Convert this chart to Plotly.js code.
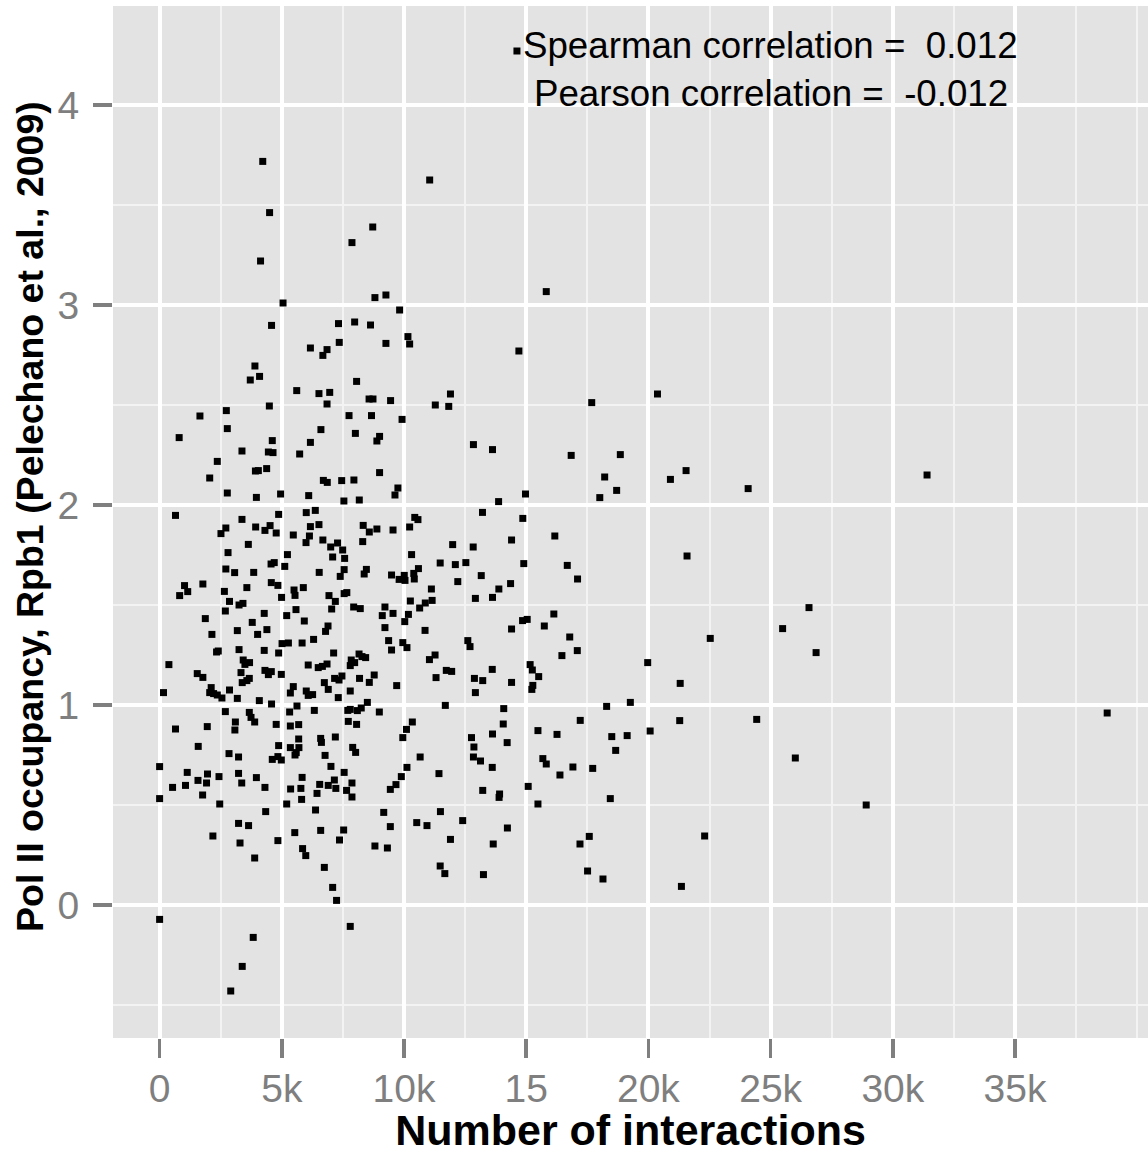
<!DOCTYPE html>
<html><head><meta charset="utf-8">
<script src="https://cdn.plot.ly/plotly-3.0.1.min.js"></script>
<style>html,body{margin:0;padding:0;background:#fff;overflow:hidden}#chart{width:1148px;height:1154px}</style>
</head><body><div id="chart"></div>
<script>
// [number of interactions (thousands), Pol II occupancy]
const topLeftPts = [[4.22,3.718],[4.50,3.462],[4.13,3.22],[5.05,3.01],[4.58,2.898],[6.17,2.785],[6.85,2.777],[6.68,2.748],[3.90,2.695],[4.09,2.643],[3.71,2.625],[5.61,2.572],[6.52,2.557],[6.96,2.563]];
const topMidPts = [[11.05,3.625],[8.72,3.39],[7.87,3.312],[8.81,3.037],[9.26,3.05],[15.82,3.067],[9.82,2.975],[7.32,2.907],[7.98,2.915],[8.63,2.9],[7.35,2.813],[9.26,2.808],[10.16,2.842],[10.23,2.805],[14.70,2.77],[8.06,2.618],[11.90,2.555],[14.62,4.27]];
const upperLeftPts = [[4.49,2.495],[6.85,2.505],[1.65,2.445],[2.73,2.472],[2.77,2.382],[6.60,2.377],[0.80,2.337],[4.61,2.322],[6.17,2.313],[3.37,2.27],[4.45,2.265],[4.64,2.262],[5.73,2.255],[2.36,2.218],[3.92,2.17],[4.04,2.172],[4.38,2.182],[2.05,2.135],[6.70,2.123],[6.86,2.113],[2.77,2.06],[3.96,2.038],[4.95,2.055],[6.10,2.047],[0.65,1.948],[3.37,1.928],[4.87,1.953],[6.00,1.962],[6.37,1.973],[2.71,1.885],[2.51,1.857],[3.93,1.89],[4.31,1.873],[4.52,1.897],[4.77,1.86],[5.47,1.85],[6.17,1.892],[6.52,1.902],[6.13,1.845],[5.99,1.812],[6.68,1.825],[7.00,1.79],[3.63,1.803],[2.80,1.762],[5.23,1.752],[7.08,1.74],[4.56,1.705],[4.69,1.712],[5.12,1.693],[2.71,1.68],[3.07,1.662],[3.85,1.663],[6.53,1.663],[1.02,1.597],[1.15,1.567],[0.82,1.547],[1.77,1.605],[2.65,1.568],[3.57,1.587],[4.57,1.612],[4.84,1.598],[5.50,1.575],[5.54,1.548],[5.88,1.587],[4.99,1.538],[6.93,1.547],[2.86,1.518],[3.25,1.5],[3.41,1.508],[2.69,1.47],[4.28,1.458],[5.58,1.477],[5.20,1.447],[7.04,1.48],[1.87,1.432],[3.79,1.413],[5.92,1.42],[2.14,1.353],[3.18,1.372],[4.01,1.353],[4.39,1.377],[6.89,1.395],[6.79,1.368]];
const upperMidPts = [[8.57,2.53],[8.73,2.53],[9.45,2.522],[11.28,2.5],[11.83,2.493],[7.75,2.447],[8.67,2.447],[9.92,2.428],[8.01,2.358],[9.00,2.343],[8.89,2.32],[12.84,2.302],[13.62,2.277],[9.00,2.162],[7.45,2.122],[7.95,2.125],[9.75,2.085],[9.63,2.05],[7.54,2.02],[8.17,2.025],[13.87,2.017],[14.97,2.055],[13.21,1.963],[14.86,1.933],[10.44,1.938],[10.57,1.927],[10.23,1.89],[8.33,1.898],[8.58,1.865],[8.89,1.88],[9.55,1.875],[14.40,1.825],[7.28,1.81],[7.49,1.775],[7.57,1.733],[8.31,1.817],[11.99,1.802],[12.83,1.79],[10.31,1.752],[11.48,1.71],[12.10,1.702],[12.53,1.712],[14.90,1.707],[7.55,1.677],[8.46,1.678],[8.37,1.655],[10.59,1.682],[10.40,1.658],[9.49,1.65],[9.80,1.628],[10.01,1.648],[10.04,1.623],[10.42,1.63],[7.39,1.643],[13.16,1.647],[12.20,1.617],[14.36,1.607],[13.88,1.58],[11.12,1.58],[7.55,1.557],[7.66,1.562],[7.19,1.518],[7.94,1.49],[8.21,1.482],[9.22,1.49],[10.26,1.52],[10.87,1.51],[10.64,1.485],[11.15,1.523],[12.92,1.533],[13.62,1.538],[9.11,1.447],[9.55,1.458],[10.18,1.453],[10.03,1.417],[9.22,1.387],[10.86,1.373],[14.85,1.422],[15.04,1.428],[14.40,1.38],[15.74,1.395],[16.13,1.455]];
const lowerLeftPts = [[5.01,1.307],[5.27,1.31],[5.83,1.31],[6.30,1.328],[7.12,1.26],[2.33,1.265],[2.40,1.27],[3.25,1.277],[4.28,1.273],[4.87,1.26],[0.38,1.202],[3.42,1.225],[3.49,1.203],[3.68,1.212],[6.08,1.2],[6.49,1.187],[6.66,1.193],[6.85,1.205],[1.54,1.157],[1.77,1.138],[3.33,1.162],[4.31,1.173],[4.57,1.167],[4.45,1.152],[4.98,1.153],[6.74,1.112],[3.38,1.112],[3.57,1.122],[3.67,1.133],[0.16,1.062],[2.11,1.087],[2.05,1.062],[2.21,1.057],[2.36,1.05],[2.55,1.035],[2.86,1.075],[3.18,1.033],[5.47,1.092],[5.35,1.06],[6.00,1.07],[6.08,1.048],[6.26,1.052],[6.90,1.078],[4.08,1.022],[4.58,1.005],[5.62,0.995],[2.69,0.967],[3.67,0.963],[3.74,0.938],[3.89,0.915],[5.32,0.965],[6.33,0.973],[0.65,0.88],[1.95,0.892],[3.10,0.915],[3.08,0.875],[4.77,0.903],[5.35,0.895],[5.69,0.902],[5.69,0.83],[6.59,0.833],[6.62,0.813],[1.58,0.793],[2.84,0.757],[3.23,0.74],[4.87,0.797],[5.35,0.787],[5.70,0.787],[5.59,0.762],[5.54,0.75],[6.77,0.748],[4.61,0.728],[4.84,0.742],[4.98,0.725],[7.01,0.693],[0.00,0.692],[1.13,0.663],[1.96,0.655],[2.43,0.642],[3.23,0.658],[3.96,0.637],[5.83,0.638],[0.53,0.588],[1.06,0.598],[1.57,0.623],[1.92,0.61],[3.36,0.61],[4.31,0.588],[5.36,0.58],[5.78,0.583],[6.55,0.603],[6.90,0.598],[7.15,0.625],[1.76,0.55],[6.44,0.558],[5.81,0.528],[0.00,0.532],[2.46,0.505],[5.20,0.505],[4.34,0.467],[6.38,0.475],[3.23,0.408],[3.64,0.397],[5.53,0.362],[6.59,0.373],[2.18,0.345],[3.29,0.31],[4.84,0.322],[5.85,0.282],[5.98,0.247],[3.89,0.235],[6.74,0.188],[7.08,0.088],[0.00,-0.072],[3.83,-0.162],[3.38,-0.307],[2.91,-0.43]];
const lowerMidPts = [[9.37,1.322],[9.49,1.275],[9.95,1.312],[10.12,1.287],[12.61,1.322],[12.70,1.292],[11.04,1.227],[11.27,1.25],[7.84,1.225],[7.98,1.212],[7.80,1.197],[8.16,1.255],[8.28,1.242],[8.43,1.237],[13.61,1.178],[11.73,1.173],[11.95,1.168],[15.16,1.202],[15.25,1.175],[15.51,1.142],[15.23,1.078],[15.27,1.098],[14.40,1.113],[12.88,1.133],[13.22,1.122],[12.92,1.062],[11.31,1.137],[9.70,1.097],[8.18,1.133],[8.78,1.15],[8.58,1.113],[7.16,1.133],[7.34,1.125],[7.46,1.145],[7.80,1.07],[7.31,1.037],[8.50,1.013],[8.25,0.985],[8.09,0.972],[7.70,0.973],[7.80,0.978],[8.99,0.965],[11.69,0.998],[14.08,0.982],[7.72,0.918],[8.06,0.903],[10.34,0.915],[10.10,0.878],[9.95,0.837],[14.06,0.905],[13.62,0.855],[14.22,0.812],[12.76,0.837],[12.86,0.79],[12.84,0.74],[13.13,0.72],[15.48,0.872],[7.19,0.84],[7.90,0.788],[8.02,0.763],[10.66,0.74],[13.61,0.688],[15.68,0.732],[15.82,0.705],[10.12,0.688],[11.43,0.657],[7.55,0.663],[9.89,0.642],[7.21,0.583],[7.87,0.61],[7.65,0.573],[7.87,0.54],[9.67,0.602],[9.44,0.578],[13.22,0.573],[13.91,0.555],[13.89,0.538],[15.08,0.593],[15.48,0.505],[9.17,0.463],[9.44,0.392],[11.49,0.467],[10.52,0.412],[10.94,0.397],[12.40,0.422],[14.23,0.385],[7.53,0.375],[7.36,0.325],[8.81,0.295],[9.32,0.285],[11.90,0.328],[13.65,0.305],[11.48,0.195],[11.67,0.157],[13.25,0.152],[7.24,0.023],[7.80,-0.107]];
const rightUpperPts = [[17.68,2.512],[20.37,2.555],[16.84,2.248],[18.85,2.252],[18.21,2.14],[18.70,2.073],[18.01,2.037],[20.90,2.128],[21.54,2.172],[24.08,2.082],[16.17,1.845],[31.40,2.15]];
const rightLowerPts = [[16.68,1.698],[17.10,1.63],[16.78,1.34],[16.46,1.247],[17.09,1.272],[21.58,1.745],[26.57,1.487],[25.49,1.382],[26.86,1.262],[22.53,1.333],[19.97,1.212],[21.30,1.108],[18.29,0.993],[19.26,1.013],[17.21,0.923],[16.26,0.853],[18.50,0.842],[19.13,0.847],[18.66,0.773],[20.07,0.87],[21.28,0.922],[24.43,0.928],[26.01,0.735],[16.91,0.69],[17.72,0.683],[16.38,0.65],[18.44,0.532],[28.91,0.5],[17.58,0.343],[17.20,0.305],[22.30,0.345],[17.51,0.17],[18.14,0.13],[21.35,0.093],[38.77,0.96]];

const xTickVals = [0, 5, 10, 15, 20, 25, 30, 35];
const xTickText = ['0', '5k', '10k', '15', '20k', '25k', '30k', '35k'];
const xTitleText = 'Number of interactions';
const yTitleText = 'Pol II occupancy, Rpb1 (Pelechano et al., 2009)';
const spearmanText = 'Spearman correlation =\u00a0 0.012';
const pearsonText = 'Pearson correlation =\u00a0 -0.012';

const allPts = [].concat(topLeftPts, topMidPts, upperLeftPts, upperMidPts, lowerLeftPts, lowerMidPts, rightUpperPts, rightLowerPts);
const xs = allPts.map(p => p[0]);
const ys = allPts.map(p => p[1]);

const FONT = '"Liberation Sans", Arial, Helvetica, sans-serif';
const GRAY = '#7F7F7F';

const trace = {
  type: 'scatter', mode: 'markers', x: xs, y: ys,
  marker: {symbol: 'square', size: 7, color: '#000000', line: {width: 0}},
  hoverinfo: 'skip', cliponaxis: true
};

const layout = {
  width: 1148, height: 1154,
  margin: {l: 113, r: 0, t: 6, b: 116, pad: 0},
  paper_bgcolor: '#FFFFFF', plot_bgcolor: '#E3E3E3',
  font: {family: FONT, color: GRAY},
  showlegend: false,
  xaxis: {
    range: [-1.907, 40.44], tickmode: 'array', tickvals: xTickVals, ticktext: xTickText,
    ticks: 'outside', ticklen: 19, tickwidth: 3.5, tickcolor: GRAY,
    tickfont: {family: FONT, size: 39, color: GRAY},
    ticklabelstandoff: -3,
    showgrid: true, gridcolor: '#FFFFFF', gridwidth: 4,
    minor: {dtick: 2.5, tick0: 0, showgrid: true, gridcolor: '#F3F3F3', gridwidth: 2, ticks: ''},
    zeroline: false, showline: false,
    title: {text: xTitleText, font: {family: FONT, size: 43, color: '#000000', weight: 'bold'}, standoff: 12}
  },
  yaxis: {
    range: [-0.665, 4.495], tickmode: 'linear', tick0: 0, dtick: 1,
    ticks: 'outside', ticklen: 19, tickwidth: 3.5, tickcolor: GRAY,
    tickfont: {family: FONT, size: 39, color: GRAY},
    ticklabelstandoff: 6,
    showgrid: true, gridcolor: '#FFFFFF', gridwidth: 4,
    minor: {dtick: 0.5, tick0: 0, showgrid: true, gridcolor: '#F3F3F3', gridwidth: 2, ticks: ''},
    zeroline: false, showline: false
  },
  annotations: [
    {x: -0.0802, y: 0.5058, xref: 'paper', yref: 'paper', text: yTitleText, textangle: -90, showarrow: false,
     xanchor: 'center', yanchor: 'middle', font: {family: FONT, size: 37.5, color: '#000000', weight: 'bold'}},
    {x: 25, y: 4.30, xref: 'x', yref: 'y', text: spearmanText, showarrow: false, xanchor: 'center', yanchor: 'middle', font: {family: FONT, size: 36.7, color: '#000000'}},
    {x: 25, y: 4.06, xref: 'x', yref: 'y', text: pearsonText, showarrow: false, xanchor: 'center', yanchor: 'middle', font: {family: FONT, size: 36.7, color: '#000000'}}
  ]
};

Plotly.newPlot('chart', [trace], layout, {displayModeBar: false, staticPlot: true});
</script></body></html>
